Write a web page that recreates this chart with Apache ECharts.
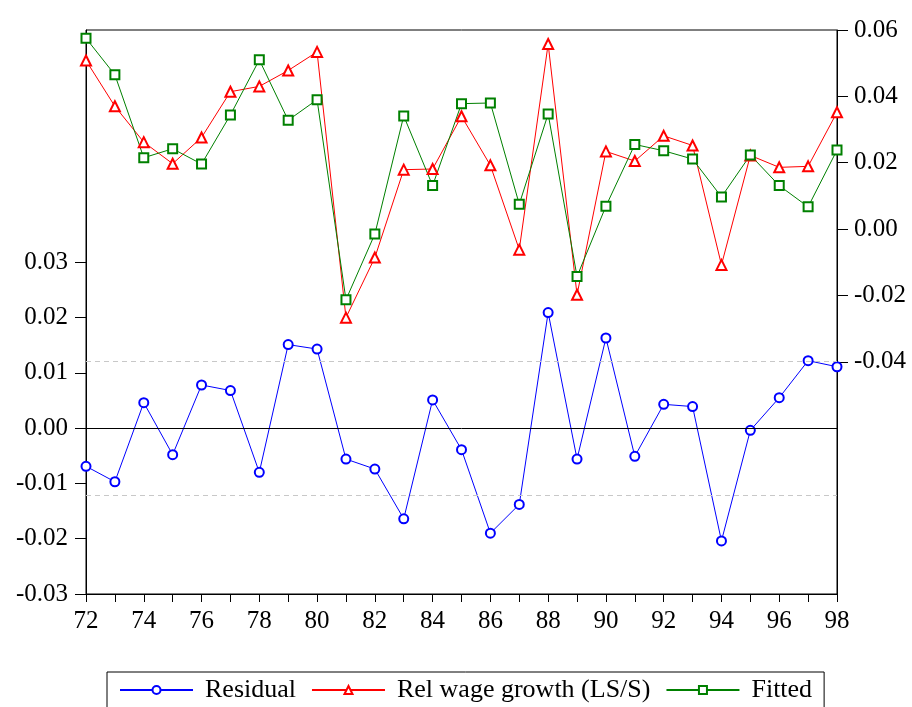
<!DOCTYPE html>
<html>
<head>
<meta charset="utf-8">
<script src="https://cdn.jsdelivr.net/npm/echarts@6/dist/echarts.min.js"></script>
<style>
html,body{margin:0;padding:0;background:#fff;}
#c{width:912px;height:707px;}
</style>
</head>
<body>
<div id="c"></div>
<script>
const years = [72,73,74,75,76,77,78,79,80,81,82,83,84,85,86,87,88,89,90,91,92,93,94,95,96,97,98];
const residual = [-0.0069,-0.0097,0.0046,-0.0048,0.0078,0.0068,-0.0080,0.0151,0.0143,-0.0056,-0.0074,-0.0164,0.0051,-0.0039,-0.0190,-0.0138,0.0209,-0.0056,0.0163,-0.0051,0.0043,0.0039,-0.0204,-0.0004,0.0055,0.0122,0.0111];
const actual = [0.0508,0.0370,0.0262,0.0197,0.0276,0.0414,0.0430,0.0478,0.0534,-0.0267,-0.0086,0.0179,0.0181,0.0340,0.0192,-0.0062,0.0558,-0.0198,0.0234,0.0205,0.0281,0.0252,-0.0108,0.0222,0.0186,0.0189,0.0352];
const fitted = [0.0575,0.0465,0.0215,0.0242,0.0196,0.0344,0.0510,0.0328,0.0390,-0.0213,-0.0015,0.0341,0.0131,0.0378,0.0380,0.0075,0.0347,-0.0143,0.0069,0.0255,0.0236,0.0211,0.0097,0.0223,0.0131,0.0067,0.0238];
const leftTicks = [-0.03,-0.02,-0.01,0.00,0.01,0.02,0.03];
const rightTicks = [-0.04,-0.02,0.00,0.02,0.04,0.06];
const residualBand = 0.0121;

const FONT = 'Liberation Serif';
const pairs = arr => years.map((y,i)=>[y,arr[i]]);
const chart = echarts.init(document.getElementById('c'), null, {renderer:'canvas'});
chart.setOption({
  animation:false,
  backgroundColor:'#fff',
  textStyle:{fontFamily:FONT,color:'#000'},
  grid:{left:86,right:75,top:30,bottom:113,show:true,borderColor:'#000',borderWidth:1,backgroundColor:'transparent'},
  legend:{
    left:107, top:672,
    padding:[5,12,20,12],
    borderColor:'#000', borderWidth:1,
    itemWidth:73, itemHeight:10, itemGap:15,
    textStyle:{fontFamily:FONT,fontSize:26,color:'#000',padding:[0,0,0,7]},
    data:['Residual','Rel wage growth (LS/S)','Fitted']
  },
  xAxis:{
    type:'value', min:72, max:98, interval:1,
    axisLine:{onZero:false,lineStyle:{color:'#000',width:1}},
    axisTick:{show:true,length:8,inside:false,lineStyle:{color:'#000'}},
    axisLabel:{fontFamily:FONT,fontSize:25,color:'#000',margin:15,
      formatter:v=> (v%2===0 ? String(v) : '')},
    splitLine:{show:false}
  },
  yAxis:[
    {type:'value', position:'left', min:-0.03, max:0.072,
     axisLine:{show:true,onZero:false,lineStyle:{color:'#000',width:1}},
     axisTick:{show:true,length:11,lineStyle:{color:'#000'},customValues:leftTicks},
     axisLabel:{fontFamily:FONT,fontSize:25,color:'#000',margin:18,customValues:leftTicks,
       formatter:v=>v.toFixed(2)},
     splitLine:{show:false}},
    {type:'value', position:'right', min:-0.11, max:0.06,
     axisLine:{show:true,onZero:false,lineStyle:{color:'#000',width:1}},
     axisTick:{show:true,length:11,lineStyle:{color:'#000'},customValues:rightTicks},
     axisLabel:{fontFamily:FONT,fontSize:25,color:'#000',margin:17,customValues:rightTicks,
       formatter:v=>v.toFixed(2)},
     splitLine:{show:false}}
  ],
  series:[
    {name:'Residual', type:'line', yAxisIndex:0, data:pairs(residual),
     symbol:'emptyCircle', symbolSize:9, showAllSymbol:true,
     lineStyle:{color:'#0000ff',width:1}, itemStyle:{color:'#0000ff',borderWidth:1},
     markLine:{silent:true,precision:6,symbol:['none','none'],label:{show:false},animation:false,
       data:[
         {yAxis:0,lineStyle:{color:'#000',type:'solid',width:1}},
         {yAxis:residualBand,lineStyle:{color:'#c8c8c8',type:[5,4],width:1}},
         {yAxis:-residualBand,lineStyle:{color:'#c8c8c8',type:[5,4],width:1}}
       ]}},
    {name:'Rel wage growth (LS/S)', type:'line', yAxisIndex:1, data:pairs(actual),
     symbol:'emptyTriangle', symbolSize:10, showAllSymbol:true,
     lineStyle:{color:'#ff0000',width:1}, itemStyle:{color:'#ff0000',borderWidth:1}},
    {name:'Fitted', type:'line', yAxisIndex:1, data:pairs(fitted),
     symbol:'emptyRect', symbolSize:9, showAllSymbol:true,
     lineStyle:{color:'#008000',width:1}, itemStyle:{color:'#008000',borderWidth:1}}
  ]
});
</script>
</body>
</html>
